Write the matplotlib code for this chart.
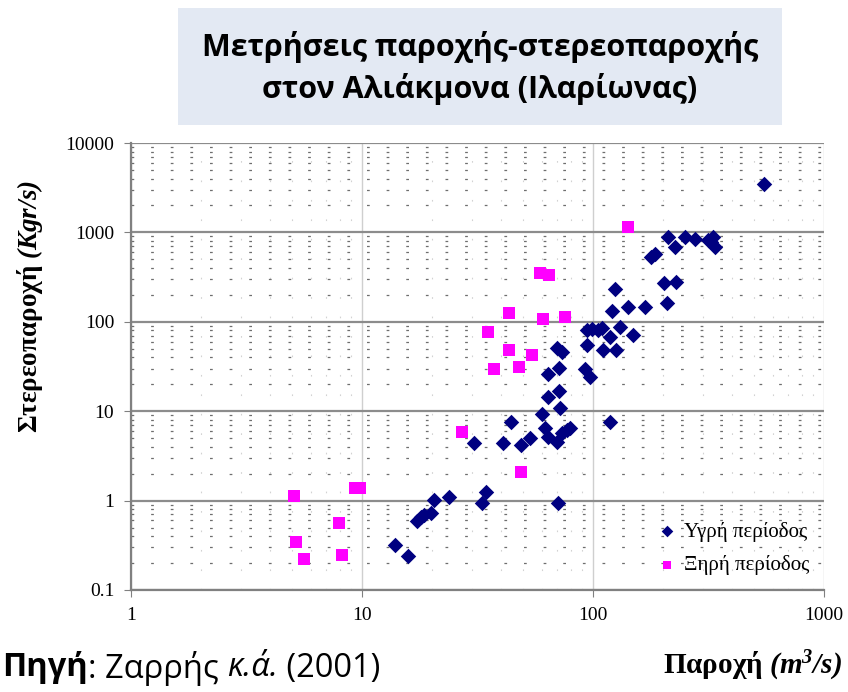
import matplotlib
matplotlib.use("Agg")
import matplotlib.pyplot as plt
from matplotlib.patches import Rectangle
from matplotlib.ticker import LogLocator, FixedLocator, NullFormatter

# wet period (Υγρή περίοδος): discharge m3/s, sediment discharge Kgr/s
wet_q = [13.9, 15.8, 17.3, 18.0, 18.6, 19.9, 20.5, 23.8, 33.1, 34.4, 70.5,
         30.5, 40.8, 44.2, 48.8, 53.4, 60.1, 62.0, 63.9, 69.8, 73.4, 77.1, 79.5,
         63.9, 71.3, 72.0, 63.9, 71.3, 69.8, 73.4,
         92.3, 97.1, 94.2, 110.5, 125.8, 94.2, 99.0, 105.0, 109.0, 118.5, 130.9, 149.0, 118.5,
         124.5, 120.8, 141.8, 168.0, 178.0, 185.0, 203.0, 229.0, 209.0,
         211.0, 226.0, 250.0, 276.0, 315.0, 324.0, 331.0, 337.0, 550.0]
wet_qs = [0.318, 0.240, 0.591, 0.655, 0.69, 0.725, 1.01, 1.09, 0.938, 1.24, 0.95,
          4.39, 4.39, 7.54, 4.17, 4.99, 9.25, 6.46, 5.12, 4.51, 5.68, 6.14, 6.46,
          14.3, 16.7, 10.8, 25.9, 30.2, 50.6, 45.6,
          29.4, 24.0, 54.6, 48.1, 48.1, 80.4, 82.4, 80.4, 84.5, 67.1, 86.9, 70.6, 7.54,
          231.0, 131.0, 145.0, 145.0, 526.0, 567.0, 269.0, 276.0, 161.0,
          879.0, 680.0, 879.0, 836.0, 815.0, 775.0, 879.0, 680.0, 3436.0]

# dry period (Ξηρή περίοδος)
dry_q = [5.08, 5.18, 5.61, 7.95, 8.19, 9.3, 9.8, 27.1, 48.8, 35.1, 43.3, 43.3,
         37.3, 47.8, 54.5, 59.0, 64.5, 60.8, 75.7, 141.8]
dry_qs = [1.12, 0.344, 0.222, 0.561, 0.246, 1.38, 1.38, 5.82, 2.08, 76.4, 124.0, 48.1,
          29.4, 31.0, 42.3, 348.0, 331.0, 107.0, 112.0, 1138.0]

x_ticks = [1, 10, 100, 1000]
y_ticks = [0.1, 1, 10, 100, 1000, 10000]
y_labels = ["0.1", "1", "10", "100", "1000", "10000"]

serif = "Liberation Serif"
plt.rcParams["mathtext.fontset"] = "custom"
plt.rcParams["mathtext.rm"] = serif
plt.rcParams["mathtext.it"] = serif + ":italic"
plt.rcParams["mathtext.bf"] = serif + ":bold"
plt.rcParams["mathtext.bfit"] = serif + ":italic:bold"

fig = plt.figure(figsize=(8.48, 6.92), dpi=100)
ax = fig.add_axes([131 / 848, 1 - 590 / 692, 693 / 848, 447 / 692])

ax.set_xscale("log")
ax.set_yscale("log")
ax.set_xlim(1, 1000)
ax.set_ylim(0.1, 10000)

# grid
ax.xaxis.set_major_locator(FixedLocator(x_ticks))
ax.yaxis.set_major_locator(FixedLocator(y_ticks))
ax.xaxis.set_minor_locator(LogLocator(base=10, subs=range(2, 10)))
ax.yaxis.set_minor_locator(LogLocator(base=10, subs=range(2, 10)))
ax.xaxis.set_minor_formatter(NullFormatter())
ax.yaxis.set_minor_formatter(NullFormatter())
ax.grid(True, axis="y", which="major", color="#8c8c8c", lw=1.6, zorder=1)
ax.grid(True, axis="x", which="major", color="#cfcfcf", lw=1.0, zorder=1)
ax.grid(True, axis="y", which="minor", color="#6e6e6e", lw=0.9,
        linestyle=(0, (2.2, 13.5)), zorder=1)
ax.grid(True, axis="x", which="minor", color="#d2d2d2", lw=0.8,
        linestyle=(0, (1.5, 16)), zorder=1)
ax.set_axisbelow(True)

ax.scatter(wet_q, wet_qs, marker="D", s=62, color="#000080", zorder=3,
           label="Υγρή περίοδος", linewidths=0)
ax.scatter(dry_q, dry_qs, marker="s", s=72, color="#ff00ff", zorder=3,
           label="Ξηρή περίοδος", linewidths=0)

for side in ["top", "right"]:
    ax.spines[side].set_visible(False)
for side in ["left", "bottom"]:
    ax.spines[side].set_color("#808080")
    ax.spines[side].set_linewidth(1.6)

ax.set_xticklabels([str(v) for v in x_ticks])
ax.set_yticklabels(y_labels)
ax.tick_params(which="major", direction="out", length=5, color="#808080",
               labelsize=14, pad=7)
ax.tick_params(which="minor", length=0)
for lab in ax.get_xticklabels() + ax.get_yticklabels():
    lab.set_family(serif)

leg = ax.legend(loc="lower right", frameon=False, prop={"family": serif, "size": 15},
                handletextpad=0.3, markerscale=0.75, labelspacing=0.65,
                borderaxespad=0.3, handlelength=1.0)

# title box
fig.patches.append(Rectangle((178 / 848, 1 - 125 / 692), 604 / 848, 117 / 692,
                             transform=fig.transFigure, facecolor="#e3e9f3",
                             edgecolor="none", zorder=0))
fig.text(480 / 848, 1 - 68 / 692, "Μετρήσεις παροχής-στερεοπαροχής\nστον Αλιάκμονα (Ιλαρίωνας)",
         ha="center", va="center", fontsize=22, fontweight="bold",
         family="Open Sans", linespacing=1.4)

# axis labels
fig.text(30 / 848, 1 - 307 / 692, r"Στερεοπαροχή $\mathbfit{(Kgr/s)}$", rotation=90,
         ha="center", va="center", fontsize=19.5, fontweight="bold", family=serif)
fig.text(842 / 848, 1 - 666 / 692, r"Παροχή $\mathbfit{(m^3/s)}$",
         ha="right", va="center", fontsize=21, fontweight="bold", family=serif)

# source line, built from styled pieces
src_parts = [("Πηγή", "bold", "normal"), (": Ζαρρής ", "normal", "normal"),
             ("κ.ά.", "normal", "italic"), (" (2001)", "normal", "normal")]
x0 = 2
renderer = fig.canvas.get_renderer()
for txt, w, st in src_parts:
    t = fig.text(x0 / 848, 1 - 668 / 692, txt, ha="left", va="center", fontsize=23.5,
                 fontweight=w, style=st, family="Open Sans")
    bb = t.get_window_extent(renderer=renderer)
    x0 += bb.width

fig.savefig("out.png", dpi=100)
